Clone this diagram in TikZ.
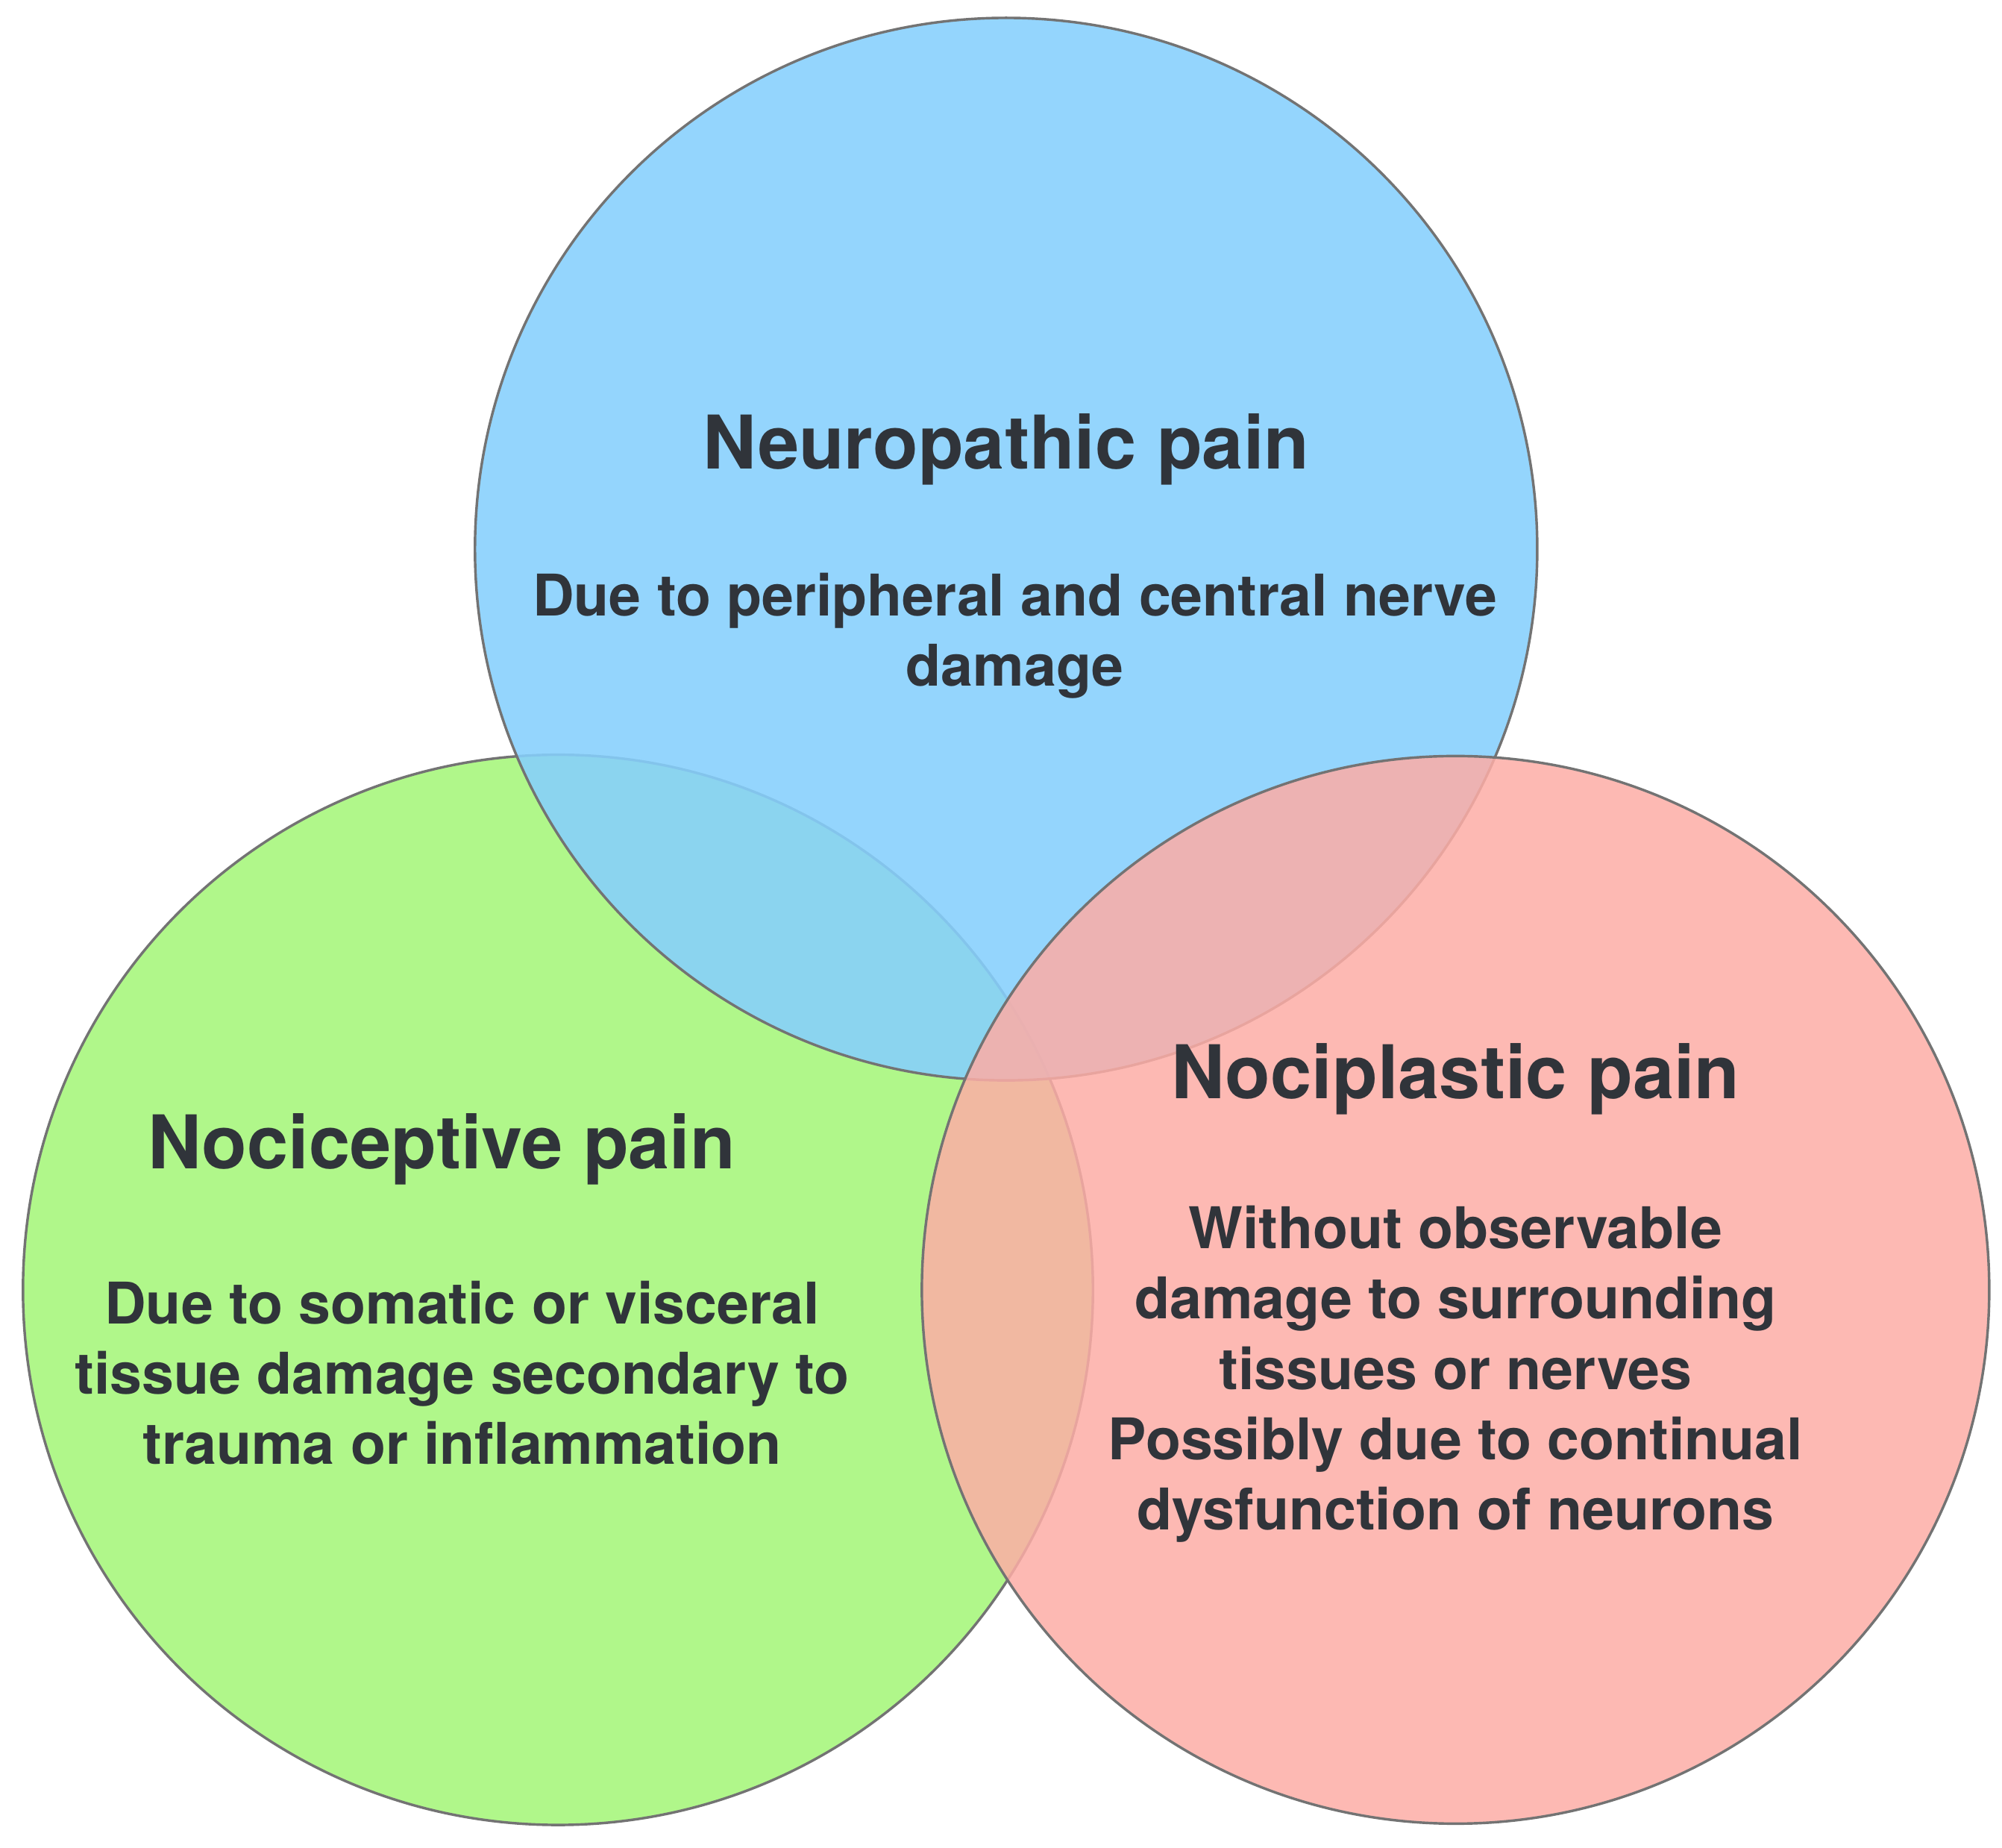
\documentclass[tikz,border=0pt]{standalone}
\usepackage{fontspec}
\setmainfont{TeX Gyre Heros}
\definecolor{cblue}{HTML}{86D0FD}
\definecolor{cgreen}{HTML}{B0F78A}
\definecolor{cred}{HTML}{FDADA6}
\definecolor{ctext}{HTML}{30343A}
\begin{document}
\begin{tikzpicture}[x=1pt,y=-1pt,
  circ/.style={draw=black!55,line width=2pt},
  ttl/.style={font=\fontsize{58}{66}\selectfont\bfseries,text=ctext},
  body/.style={font=\fontsize{45}{55}\selectfont\bfseries,text=ctext,align=center}]
\useasboundingbox (0,0) rectangle (1568,1447);
\fill[white] (0,0) rectangle (1568,1447);
\draw[circ,fill=cgreen] (437,1010) circle (419);
\draw[circ,fill=cblue,fill opacity=0.88] (788,430) circle (416);
\draw[circ,fill=cred,fill opacity=0.85] (1140,1010) circle (418);
\node[ttl] (nt) at (788,352) {Neuropathic pain};
\node[body] (nb) at (795,498) {Due to peripheral and central nerve\\damage};
\node[ttl] (ct) at (346,900) {Nociceptive pain};
\node[body] (cb) at (362,1075) {Due to somatic or visceral\\tissue damage secondary to\\trauma or inflammation};
\node[ttl] (pt) at (1140,845) {Nociplastic pain};
\node[body] (pb) at (1140,1076) {Without observable\\damage to surrounding\\tissues or nerves\\Possibly due to continual\\dysfunction of neurons};
\end{tikzpicture}
\end{document}
